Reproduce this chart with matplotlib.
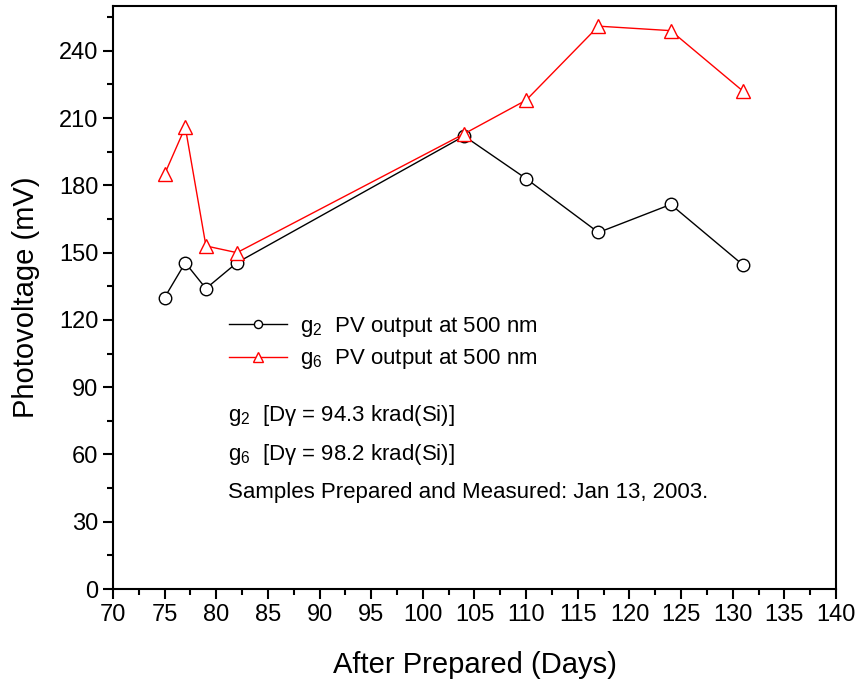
import matplotlib
matplotlib.use('Agg')
import matplotlib.pyplot as plt
from matplotlib.ticker import MultipleLocator

plt.rcParams['font.family'] = ['Liberation Sans', 'DejaVu Sans']
plt.rcParams['mathtext.fontset'] = 'custom'
plt.rcParams['mathtext.rm'] = 'Liberation Sans'
plt.rcParams['mathtext.it'] = 'Liberation Sans'

days = [75, 77, 79, 82, 104, 110, 117, 124, 131]
g2_pv = [130, 145.5, 134, 145.5, 202, 183, 159, 171.5, 144.5]
g6_pv = [185, 206, 153, 150, 203, 218, 251, 249, 222]

fig = plt.figure(figsize=(8.61, 6.87), dpi=100)
ax = fig.add_axes([0.1312, 0.1426, 0.8398, 0.8487])

ax.plot(days, g2_pv, color='black', lw=1, marker='o', ms=9, mfc='white',
        mec='black', mew=1, label='g$_2$  PV output at 500 nm')
ax.plot(days, g6_pv, color='red', lw=1, marker='^', ms=10, mfc='white',
        mec='red', mew=1, label='g$_6$  PV output at 500 nm')

ax.set_xlim(70, 140)
ax.set_ylim(0, 260)
ax.xaxis.set_major_locator(MultipleLocator(5))
ax.xaxis.set_minor_locator(MultipleLocator(2.5))
ax.yaxis.set_major_locator(MultipleLocator(30))
ax.yaxis.set_minor_locator(MultipleLocator(15))
ax.tick_params(which='major', direction='out', length=7, width=1.5, labelsize=17)
ax.tick_params(which='minor', direction='out', length=4, width=1.5)
ax.tick_params(top=False, right=False)
for s in ax.spines.values():
    s.set_linewidth(1.5)

ax.set_xlabel('After Prepared (Days)', fontsize=21, labelpad=18)
ax.set_ylabel('Photovoltage (mV)', fontsize=21, labelpad=14)

ax.legend(loc='upper left', bbox_to_anchor=(0.133, 0.505), frameon=False,
          fontsize=16, handlelength=2.6, handletextpad=0.6, labelspacing=0.4,
          markerscale=0.65)

ax.text(0.159, 0.298, 'g$_2$  [D\u03b3 = 94.3 krad(Si)]', transform=ax.transAxes,
        fontsize=16, va='center')
ax.text(0.159, 0.230, 'g$_6$  [D\u03b3 = 98.2 krad(Si)]', transform=ax.transAxes,
        fontsize=16, va='center')
ax.text(0.159, 0.166, 'Samples Prepared and Measured: Jan 13, 2003.', transform=ax.transAxes,
        fontsize=16, va='center')

fig.savefig('out.png', dpi=100)
